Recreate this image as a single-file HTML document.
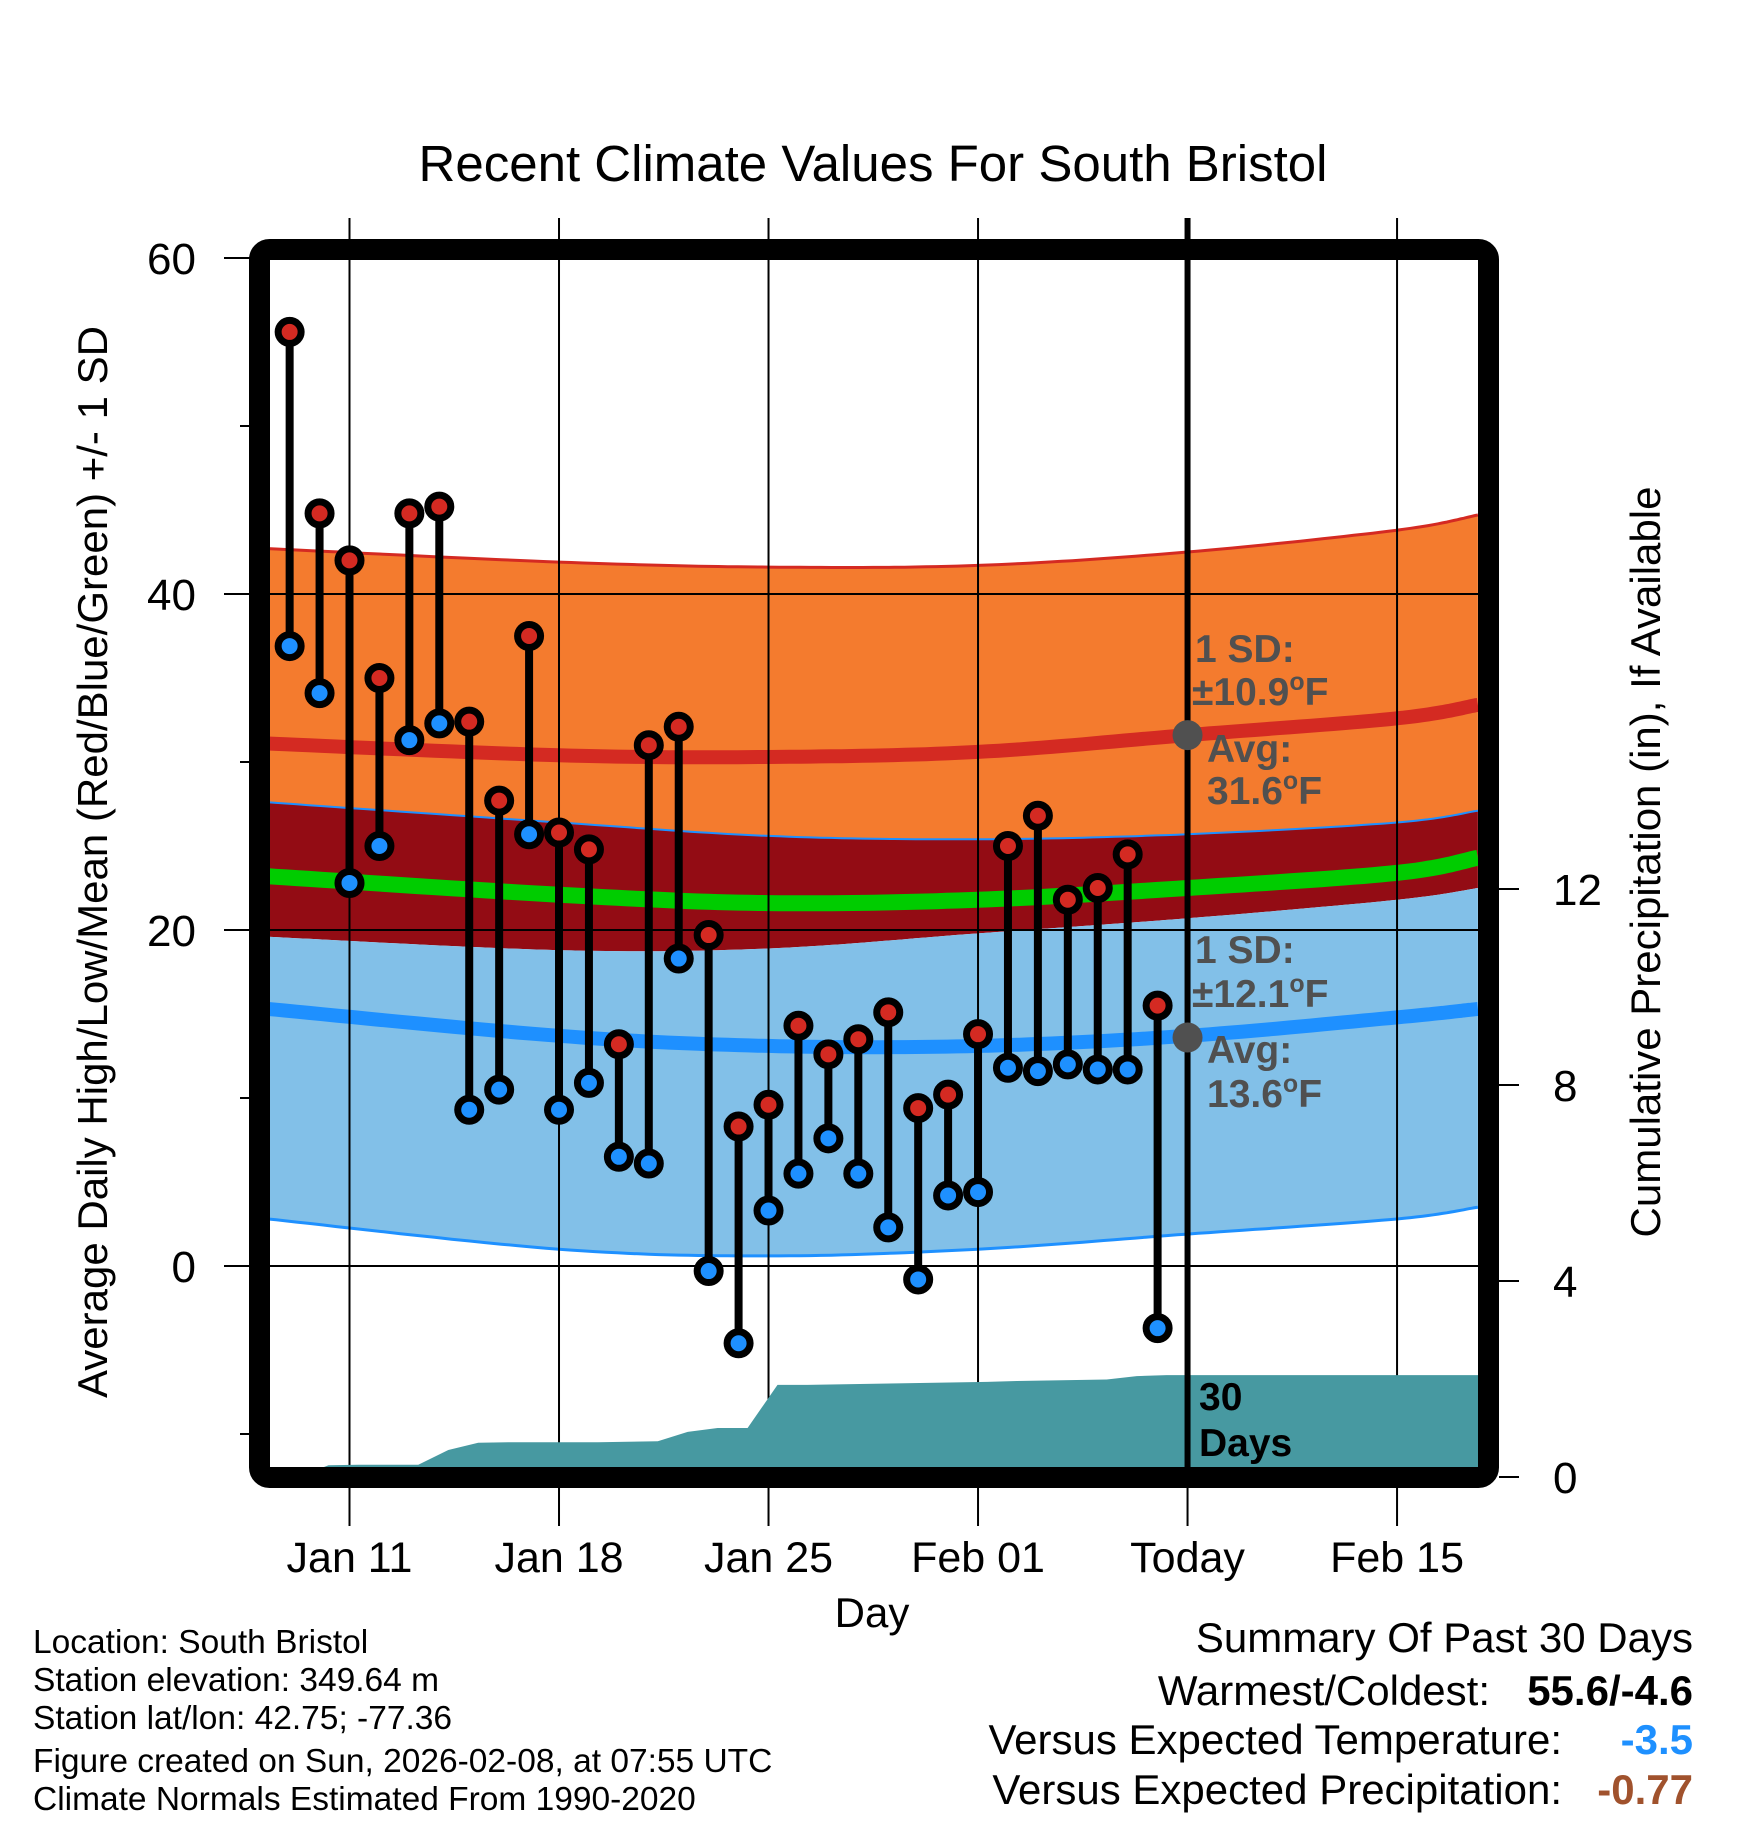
<!DOCTYPE html>
<html><head><meta charset="utf-8"><style>
html,body{margin:0;padding:0;background:#fff}
svg{display:block;font-family:"Liberation Sans",Arial,sans-serif}
</style></head><body>
<svg id="chart" width="1748" height="1828" viewBox="0 0 1748 1828" xmlns="http://www.w3.org/2000/svg">
<rect x="0" y="0" width="1748" height="1828" fill="#fff"/>
<text x="873" y="181" font-size="51" text-anchor="middle">Recent Climate Values For South Bristol</text>
<g id="bands"></g>
<g id="grid"></g>
<g id="precip"></g>
<g id="series"></g>
<g id="annot">
<text x="1195" y="662" font-size="39" font-weight="bold" fill="#505050">1 SD:</text>
<text x="1192" y="705" font-size="39" font-weight="bold" fill="#505050">±10.9<tspan font-size="25" dy="-15">o</tspan><tspan dy="15">F</tspan></text>
<text x="1207" y="762" font-size="39" font-weight="bold" fill="#505050">Avg:</text>
<text x="1207" y="804" font-size="39" font-weight="bold" fill="#505050">31.6<tspan font-size="25" dy="-15">o</tspan><tspan dy="15">F</tspan></text>
<text x="1195" y="963" font-size="39" font-weight="bold" fill="#505050">1 SD:</text>
<text x="1192" y="1007" font-size="39" font-weight="bold" fill="#505050">±12.1<tspan font-size="25" dy="-15">o</tspan><tspan dy="15">F</tspan></text>
<text x="1207" y="1063" font-size="39" font-weight="bold" fill="#505050">Avg:</text>
<text x="1207" y="1107" font-size="39" font-weight="bold" fill="#505050">13.6<tspan font-size="25" dy="-15">o</tspan><tspan dy="15">F</tspan></text>
<text x="1199" y="1410" font-size="39" font-weight="bold" fill="#000">30</text>
<text x="1199" y="1456" font-size="39" font-weight="bold" fill="#000">Days</text>
</g>
<rect x="259.5" y="249.5" width="1229" height="1228" rx="10" fill="none" stroke="#000" stroke-width="21"/>
<g id="axes"></g>
<text transform="translate(107,862) rotate(-90)" font-size="42" text-anchor="middle">Average Daily High/Low/Mean (Red/Blue/Green) +/- 1 SD</text>
<text transform="translate(1660,862) rotate(-90)" font-size="42" text-anchor="middle">Cumulative Precipitation (in), If Available</text>
<text x="872" y="1627" font-size="42" text-anchor="middle">Day</text>
<g font-size="33.5">
<text x="33" y="1653">Location: South Bristol</text>
<text x="33" y="1691">Station elevation: 349.64 m</text>
<text x="33" y="1729">Station lat/lon: 42.75; -77.36</text>
<text x="33" y="1772">Figure created on Sun, 2026-02-08, at 07:55 UTC</text>
<text x="33" y="1810">Climate Normals Estimated From 1990-2020</text>
</g>
<g font-size="42">
<text x="1693" y="1652" text-anchor="end">Summary Of Past 30 Days</text>
<text x="1490" y="1705" text-anchor="end">Warmest/Coldest:</text>
<text x="1693" y="1705" text-anchor="end" font-weight="bold">55.6/-4.6</text>
<text x="1562" y="1754" text-anchor="end">Versus Expected Temperature:</text>
<text x="1693" y="1754" text-anchor="end" font-weight="bold" fill="#1e90ff">-3.5</text>
<text x="1562" y="1804" text-anchor="end">Versus Expected Precipitation:</text>
<text x="1693" y="1804" text-anchor="end" font-weight="bold" fill="#a0522d">-0.77</text>
</g>
</svg>
<script>
// days since Jan 11
const normDays = [-2.72, 7, 14, 21, 28, 35, 37.7];
const orangeTop = [42.7, 41.9, 41.6, 41.7, 42.5, 43.8, 44.7];
const orangeBottom = [27.6, 26.4, 25.6, 25.4, 25.7, 26.4, 27.1];
const avgHigh = [31.1, 30.4, 30.3, 30.6, 31.6, 32.6, 33.4];
const meanLine = [23.2, 22.1, 21.6, 21.8, 22.5, 23.4, 24.3];
const blueTop = [19.6, 18.8, 18.9, 19.8, 20.7, 21.8, 22.5];
const avgLow = [15.3, 13.7, 13.1, 13.1, 13.7, 14.8, 15.3];
const blueBottom = [2.8, 1.0, 0.6, 1.0, 1.9, 2.8, 3.5];
const obsStartDay = -2; // Jan 9
const highs = [55.6,44.8,42.0,35.0,44.8,45.2,32.4,27.7,37.5,25.8,24.8,13.2,31.0,32.1,19.7,8.3,9.6,14.3,12.6,13.5,15.1,9.4,10.2,13.8,25.0,26.8,21.8,22.5,24.5,15.5];
const lows = [36.9,34.1,22.8,25.0,31.3,32.3,9.3,10.5,25.7,9.3,10.9,6.5,6.1,18.3,-0.3,-4.6,3.3,5.5,7.6,5.5,2.3,-0.8,4.2,4.4,11.8,11.6,12.0,11.7,11.7,-3.7];
const precipCum = [0,0.24,0.25,0.25,0.25,0.55,0.70,0.71,0.71,0.71,0.71,0.72,0.73,0.92,1.0,1.0,1.88,1.88,1.89,1.90,1.91,1.92,1.93,1.94,1.96,1.97,1.98,1.99,2.06,2.08];
const xTickDays = [0, 7, 14, 21, 28, 35];
const xTickLabels = ["Jan 11","Jan 18","Jan 25","Feb 01","Today","Feb 15"];
const yTicks = [0, 20, 40, 60];
const yMinor = [-10, 10, 30, 50];
const y2Ticks = [0, 4, 8, 12];
const todayDay = 28;
const todayHigh = 31.6, todayLow = 13.6;

const X0 = 268, X1 = 1478, Y0 = 259, Y1 = 1468;
const xs = d => 349.5 + d * 29.93;
const ys = t => 1266 - t * 16.8;
const yp = p => 1477 - p * 49;
const NS = "http://www.w3.org/2000/svg";
function mk(tag, attrs, parent){const e=document.createElementNS(NS,tag);for(const k in attrs)e.setAttribute(k,attrs[k]);parent.appendChild(e);return e;}
function smoothPts(arr){
  const P=normDays.map((d,i)=>[xs(d),ys(arr[i])]);
  const out=[];
  for(let i=0;i<P.length-1;i++){
    const p0=P[Math.max(0,i-1)],p1=P[i],p2=P[i+1],p3=P[Math.min(P.length-1,i+2)];
    for(let s=0;s<20;s++){
      const t=s/20,t2=t*t,t3=t2*t;
      const f=k=>0.5*((2*p1[k])+(-p0[k]+p2[k])*t+(2*p0[k]-5*p1[k]+4*p2[k]-p3[k])*t2+(-p0[k]+3*p1[k]-3*p2[k]+p3[k])*t3);
      out.push([f(0),f(1)]);
    }
  }
  out.push(P[P.length-1]);
  return out;
}
function line(arr){return smoothPts(arr).map((p,i)=>(i?'L':'M')+p[0].toFixed(1)+','+p[1].toFixed(1)).join('');}
function band(a,b){const A=smoothPts(a),B=smoothPts(b).reverse();return A.concat(B).map((p,i)=>(i?'L':'M')+p[0].toFixed(1)+','+p[1].toFixed(1)).join('')+'Z';}

const defs = mk('defs',{},document.getElementById('chart'));
const cp = mk('clipPath',{id:'clip'},defs);
mk('rect',{x:X0,y:Y0,width:X1-X0,height:Y1-Y0},cp);

const bands = document.getElementById('bands');
bands.setAttribute('clip-path','url(#clip)');
let e;
e=mk('path',{d:band(orangeTop,orangeBottom),fill:'#f47b2e'},bands);


e=mk('path',{d:band(orangeBottom,blueTop),fill:'#930c14'},bands);


e=mk('path',{d:band(blueTop,blueBottom),fill:'#82c0e8'},bands);


e=mk('path',{d:line(orangeTop),fill:'none',stroke:'#d42a22','stroke-width':3},bands);


e=mk('path',{d:line(orangeBottom),fill:'none',stroke:'#1e90ff','stroke-width':2},bands);


e=mk('path',{d:line(blueBottom),fill:'none',stroke:'#1e90ff','stroke-width':3},bands);


e=mk('path',{d:line(avgHigh),fill:'none',stroke:'#d42a22','stroke-width':14},bands);


e=mk('path',{d:line(meanLine),fill:'none',stroke:'#00cc00','stroke-width':16},bands);


e=mk('path',{d:line(avgLow),fill:'none',stroke:'#1e90ff','stroke-width':14},bands);



const grid = document.getElementById('grid');
xTickDays.forEach(d=>{
  e=mk('line',{x1:xs(d),x2:xs(d),y1:218,y2:1526,stroke:'#000','stroke-width':2},grid);
  
  
});
yTicks.forEach(t=>{
  e=mk('line',{x1:224,x2:X1,y1:ys(t),y2:ys(t),stroke:'#000','stroke-width':2},grid);
  
  
});

const pg = document.getElementById('precip');
pg.setAttribute('clip-path','url(#clip)');
let pd='M'+xs(obsStartDay+0.3)+','+Y1+' ';
precipCum.forEach((p,i)=>{pd+='L'+xs(obsStartDay+i+0.3).toFixed(1)+','+yp(p).toFixed(1)+' ';});
pd+='L'+X1+','+yp(precipCum[precipCum.length-1]).toFixed(1)+' L'+X1+','+Y1+'Z';
e=mk('path',{d:pd,fill:'#4799a1'},pg);



const sg = document.getElementById('series');
e=mk('line',{x1:xs(todayDay),x2:xs(todayDay),y1:218,y2:Y1,stroke:'#000','stroke-width':6},sg);


highs.forEach((h,i)=>{
  const x=xs(obsStartDay+i);
  e=mk('line',{x1:x,x2:x,y1:ys(h),y2:ys(lows[i]),stroke:'#000','stroke-width':8},sg);
  
  
});
highs.forEach((h,i)=>{
  const x=xs(obsStartDay+i);
  e=mk('circle',{cx:x,cy:ys(lows[i]),r:11.5,fill:'#1e90ff',stroke:'#000','stroke-width':7},sg);
  
  
  e=mk('circle',{cx:x,cy:ys(h),r:11.5,fill:'#d42a22',stroke:'#000','stroke-width':7},sg);
  
  
});
e=mk('circle',{cx:xs(todayDay),cy:ys(todayHigh),r:15,fill:'#505050'},sg);


e=mk('circle',{cx:xs(todayDay),cy:ys(todayLow),r:15,fill:'#505050'},sg);



const ax = document.getElementById('axes');
yTicks.forEach(t=>{
  e=mk('text',{x:196,y:ys(t)+16,'font-size':44,'text-anchor':'end'},ax);
  e.textContent=t;
  
  
});
yMinor.forEach(t=>{
  e=mk('line',{x1:240,x2:250,y1:ys(t),y2:ys(t),stroke:'#000','stroke-width':2},ax);
  
  
});
y2Ticks.forEach(p=>{
  e=mk('line',{x1:1499,x2:1519,y1:yp(p),y2:yp(p),stroke:'#000','stroke-width':2},ax);
  
  
  e=mk('text',{x:1553,y:yp(p)+16,'font-size':44},ax);
  e.textContent=p;
  
  
});
xTickDays.forEach((d,i)=>{
  e=mk('text',{x:xs(d),y:1572,'font-size':43,'text-anchor':'middle'},ax);
  e.textContent=xTickLabels[i];
  
  
});
</script>
</body></html>
